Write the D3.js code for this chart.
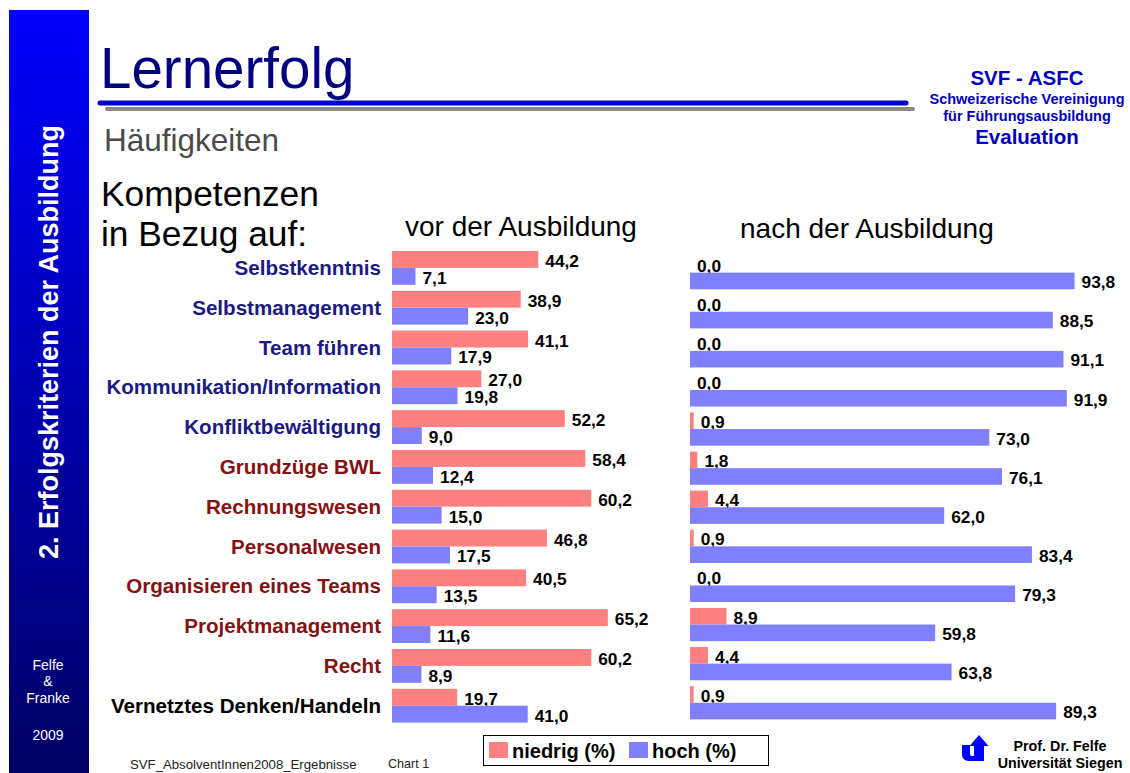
<!DOCTYPE html>
<html>
<head>
<meta charset="utf-8">
<script src="https://cdn.jsdelivr.net/npm/d3@7"></script>
<style>
  html, body { margin: 0; padding: 0; background: #fff; }
  svg { display: block; }
  text { font-family: "Liberation Sans", Arial, Helvetica, sans-serif; }
</style>
</head>
<body>
<svg id="chart" width="1130" height="773"></svg>
<script>
// ---------- data ----------
const categories = [
  "Selbstkenntnis", "Selbstmanagement", "Team führen", "Kommunikation/Information",
  "Konfliktbewältigung", "Grundzüge BWL", "Rechnungswesen", "Personalwesen",
  "Organisieren eines Teams", "Projektmanagement", "Recht", "Vernetztes Denken/Handeln"
];
const categoryGroup = ["soft","soft","soft","soft","soft","biz","biz","biz","biz","biz","biz","other"];
const series = ["niedrig (%)", "hoch (%)"];
const vorNiedrig  = [44.2, 38.9, 41.1, 27.0, 52.2, 58.4, 60.2, 46.8, 40.5, 65.2, 60.2, 19.7];
const vorHoch     = [7.1, 23.0, 17.9, 19.8, 9.0, 12.4, 15.0, 17.5, 13.5, 11.6, 8.9, 41.0];
const nachNiedrig = [0.0, 0.0, 0.0, 0.0, 0.9, 1.8, 4.4, 0.9, 0.0, 8.9, 4.4, 0.9];
const nachHoch    = [93.8, 88.5, 91.1, 91.9, 73.0, 76.1, 62.0, 83.4, 79.3, 59.8, 63.8, 89.3];
const panelTitles = ["vor der Ausbildung", "nach der Ausbildung"];

// ---------- styles ----------
const RED = "#ff8080", BLUE = "#8080ff";
const seriesColor = d3.scaleOrdinal().domain(series).range([RED, BLUE]);
const labelColor = d3.scaleOrdinal().domain(["soft","biz","other"]).range(["#1a1a80", "#841212", "#000000"]);
const fmt = v => d3.format(".1f")(v).replace(".", ",");

const svg = d3.select("#chart");

// ---------- sidebar ----------
const defs = svg.append("defs");
const grad = defs.append("linearGradient").attr("id", "side").attr("x1", 0).attr("y1", 0).attr("x2", 0).attr("y2", 1);
grad.append("stop").attr("offset", "0%").attr("stop-color", "#0000ff");
grad.append("stop").attr("offset", "100%").attr("stop-color", "#000064");
svg.append("rect").attr("x", 9).attr("y", 10).attr("width", 80).attr("height", 763).attr("fill", "url(#side)");
svg.append("text").attr("transform", "translate(58,342) rotate(-90)")
  .attr("text-anchor", "middle").attr("font-weight", "bold").attr("font-size", 27).attr("fill", "#fff")
  .text("2. Erfolgskriterien der Ausbildung");
[["Felfe", 670], ["&", 686], ["Franke", 703], ["2009", 740]].forEach(([t, y]) => {
  svg.append("text").attr("x", 48).attr("y", y).attr("text-anchor", "middle")
    .attr("font-size", 14).attr("fill", "#fff").text(t);
});

// ---------- header ----------
svg.append("text").attr("x", 100).attr("y", 88).attr("font-size", 56.5).attr("fill", "#000080").text("Lernerfolg");
svg.append("line").attr("x1", 107).attr("x2", 913).attr("y1", 109).attr("y2", 109)
  .attr("stroke", "#888").attr("stroke-width", 4).attr("stroke-linecap", "round");
svg.append("line").attr("x1", 100).attr("x2", 906).attr("y1", 103).attr("y2", 103)
  .attr("stroke", "#0000c8").attr("stroke-width", 5).attr("stroke-linecap", "round");
svg.append("text").attr("x", 104).attr("y", 151).attr("font-size", 31.5).attr("fill", "#4a4a4a").text("Häufigkeiten");

const hdr = svg.append("g").attr("fill", "#0000c0").attr("font-weight", "bold").attr("text-anchor", "middle");
hdr.append("text").attr("x", 1027).attr("y", 85).attr("font-size", 20.5).text("SVF - ASFC");
hdr.append("text").attr("x", 1027).attr("y", 104).attr("font-size", 14.5).text("Schweizerische Vereinigung");
hdr.append("text").attr("x", 1027).attr("y", 121).attr("font-size", 14.5).text("für Führungsausbildung");
hdr.append("text").attr("x", 1027).attr("y", 144).attr("font-size", 20.5).text("Evaluation");

svg.append("text").attr("x", 101).attr("y", 206).attr("font-size", 35.3).attr("fill", "#000").text("Kompetenzen");
svg.append("text").attr("x", 101).attr("y", 246).attr("font-size", 35.3).attr("fill", "#000").text("in Bezug auf:");

svg.append("text").attr("x", 405).attr("y", 236).attr("font-size", 28).attr("fill", "#000").text(panelTitles[0]);
svg.append("text").attr("x", 740).attr("y", 238).attr("font-size", 28).attr("fill", "#000").text(panelTitles[1]);

// ---------- panels ----------
function panel(niedrig, hoch, xRange, yRange) {
  const x = d3.scaleLinear().domain([0, 100]).range(xRange);
  const y = d3.scaleBand().domain(categories).range(yRange).paddingInner(0.15).paddingOuter(0.075);
  const sub = d3.scaleBand().domain(series).range([0, y.bandwidth()]);
  const rows = categories.map((c, i) => ({ c, vals: [niedrig[i], hoch[i]] }));
  const g = svg.append("g");
  const row = g.selectAll("g.row").data(rows).join("g").attr("class", "row")
    .attr("transform", d => `translate(0,${y(d.c)})`);
  const cells = row.selectAll("g.cell").data(d => d.vals.map((v, k) => ({ s: series[k], v }))).join("g");
  cells.append("rect")
    .attr("x", x(0)).attr("y", d => sub(d.s))
    .attr("width", d => x(d.v) - x(0)).attr("height", sub.bandwidth())
    .attr("fill", d => seriesColor(d.s));
  cells.append("text")
    .attr("x", d => x(d.v) + 7).attr("y", d => sub(d.s) + sub.bandwidth() - 1)
    .attr("font-size", 17.3).attr("font-weight", "bold").attr("fill", "#000")
    .text(d => fmt(d.v));
  return y;
}
const yLeft = panel(vorNiedrig, vorHoch, [392, 723], [248, 725.6]);
panel(nachNiedrig, nachHoch, [690, 1100], [253.1, 722.3]);

// category labels
svg.append("g").selectAll("text").data(categories).join("text")
  .attr("x", 381).attr("y", d => yLeft(d) + yLeft.bandwidth() / 2 + 7)
  .attr("text-anchor", "end").attr("font-size", 20.6).attr("font-weight", "bold")
  .attr("fill", (d, i) => labelColor(categoryGroup[i]))
  .text(d => d);

// ---------- legend ----------
const lg = svg.append("g");
lg.append("rect").attr("x", 483.5).attr("y", 735.5).attr("width", 285).attr("height", 30)
  .attr("fill", "#fff").attr("stroke", "#000").attr("stroke-width", 1);
const legendX = [489, 629];
series.forEach((s, i) => {
  lg.append("rect").attr("x", legendX[i]).attr("y", 742).attr("width", 19).attr("height", 16).attr("fill", seriesColor(s));
  lg.append("text").attr("x", legendX[i] + 23).attr("y", 758).attr("font-size", 20).attr("font-weight", "bold").text(s);
});

// ---------- footer ----------
svg.append("text").attr("x", 130).attr("y", 769).attr("font-size", 13.2).attr("fill", "#222").text("SVF_AbsolventInnen2008_Ergebnisse");
svg.append("text").attr("x", 388).attr("y", 768).attr("font-size", 12.6).attr("fill", "#222").text("Chart 1");

svg.append("path")
  .attr("d", "M962,745 L970,745 L970,754 Q970,756 972,756 L974,756 L974,746 L969.5,746 L979,735 L988.5,746 L984,746 L984,761 L969,761 Q962,761 962,754 Z")
  .attr("fill", "#0000ff");
const pf = svg.append("g").attr("font-weight", "bold").attr("font-size", 14.3).attr("text-anchor", "middle").attr("fill", "#000");
pf.append("text").attr("x", 1060).attr("y", 751).text("Prof. Dr. Felfe");
pf.append("text").attr("x", 1060).attr("y", 768).text("Universität Siegen");
</script>
</body>
</html>
